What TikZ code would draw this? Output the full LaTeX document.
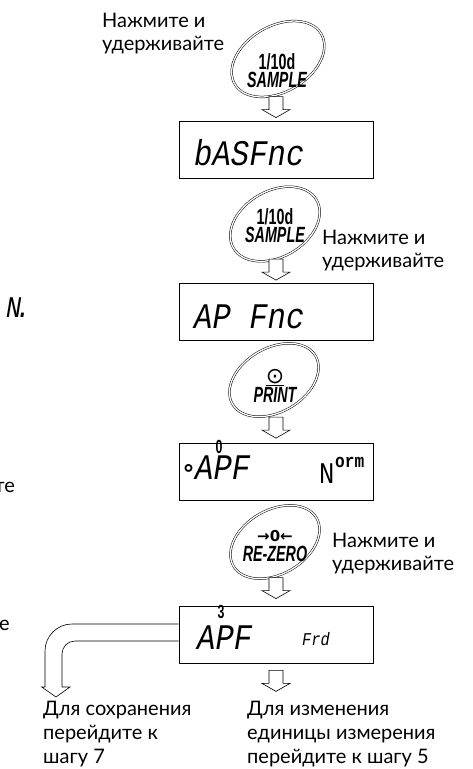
\documentclass[tikz,border=0pt]{standalone}
\usepackage{fontspec}
\setmainfont{Lato}
\newfontfamily\keyfont[FakeStretch=0.65]{Liberation Sans}
\newfontfamily\segfont[FakeStretch=0.85]{Liberation Mono}
\newfontfamily\symfont{DejaVu Sans}
\usepackage{tikz}
\usetikzlibrary{positioning}

\begin{document}
\begin{tikzpicture}[x=1pt,y=1pt,
    hint/.style={align=left, inner sep=0pt, font=\fontsize{20}{22.5}\selectfont},
    keytext/.style={align=center, inner sep=0pt, font=\keyfont\bfseries\fontsize{22}{18}\selectfont},
    keyring/.style={draw, double, double distance=1.3pt, line width=0.5pt},
    display/.style={draw, line width=0.8pt, minimum width=194pt, minimum height=57pt, inner sep=0pt},
    seg/.style={inner sep=0pt, font=\segfont\itshape\fontsize{36}{36}\selectfont},
    smallseg/.style={inner sep=0pt, font=\segfont\itshape\fontsize{18}{18}\selectfont},
    tiny/.style={inner sep=0pt, font=\keyfont\bfseries\fontsize{19}{19}\selectfont},
    openarrow/.pic={\draw[line width=0.6pt, fill=white] (-7,21) -- (-7,8) -- (-14,8) -- (0,0) -- (14,8) -- (7,8) -- (7,21) -- cycle;}
]
\useasboundingbox (0,0) rectangle (473,-769);

% displays
\node[display] (box1) at (276,-149.5) {};
\node[display] (box2) at (276,-312) {};
\node[display] (box3) at (276,-472) {};
\node[display] (box4) at (276,-634.5) {};

\node[seg, anchor=base west] (d1) at (194,-165) {bASFnc};
\node[seg, anchor=base west] (d2) at (194,-328) {AP Fnc};
\node[seg, anchor=base west] (d3) at (195,-479) {APF};
\node[tiny] (d3top) at (219,-447) {0};
\node[inner sep=0pt, font=\symfont\bfseries\fontsize{24}{24}\selectfont] (d3mark) at (188.5,-474) {°};
\node[seg, anchor=base west, font=\segfont\fontsize{30}{30}\selectfont] (d3unit) at (319,-483) {N};
\node[inner sep=0pt, anchor=north west, font=\segfont\bfseries\fontsize{19}{19}\selectfont] (d3rest) at (335,-457) {orm};
\node[seg, anchor=base west] (d4) at (197,-649) {APF};
\node[tiny] (d4top) at (221,-612) {3};
\node[smallseg, anchor=base west] (d4unit) at (302,-645) {Frd};

% keys
\draw[keyring, shift={(278,-59)}, rotate=30] (0,0) ellipse [x radius=50, y radius=33];
\node[keytext] (k1) at (277,-71) {1/10d\\\itshape SAMPLE};
\draw[keyring, shift={(275,-224)}, rotate=30] (0,0) ellipse [x radius=48, y radius=33];
\node[keytext] (k2) at (275,-226) {1/10d\\\itshape SAMPLE};
\draw[keyring, shift={(274,-380)}, rotate=30] (0,0) ellipse [x radius=48, y radius=32];
\node[keytext] (k3) at (275,-386) {{\symfont\mdseries\fontsize{22}{22}\selectfont\underline{⊙}}\\[1pt]\itshape PRINT};
\draw[keyring, shift={(275,-542)}, rotate=30] (0,0) ellipse [x radius=48, y radius=32];
\node[keytext] (k4) at (275,-546) {{\symfont\fontsize{15}{15}\selectfont →0←}\\[2pt]\itshape RE-ZERO};

% arrows between
\pic at ([yshift=3]box1.north) {openarrow};
\pic at ([yshift=3]box2.north) {openarrow};
\pic at ([yshift=5]box3.north) {openarrow};
\pic at ([yshift=7]box4.north) {openarrow};
\pic at ([yshift=-28]box4.south) {openarrow};

% bent arrow to the left
\coordinate (keep) at (56,-697);
\draw[line width=0.6pt] ([yshift=10.5]box4.west) -- (72,-624) arc[start angle=90, end angle=180, radius=27]
    -- (45,-687) -- (41.7,-687) -- (keep) -- (70,-687) -- (62,-687) -- (62,-654)
    arc[start angle=180, end angle=90, radius=13] -- ([yshift=-6.5]box4.west);

% hints
\node[hint, anchor=base west] (h1) at (102,-50) {Нажмите и\\удерживайте};
\node[hint, anchor=base west] (h2) at (322,-267) {Нажмите и\\удерживайте};
\node[hint, anchor=base west] (h3) at (332,-570) {Нажмите и\\удерживайте};
\node[hint, anchor=base west, font=\fontsize{20}{24}\selectfont] (save) at (43,-763) {Для сохранения\\перейдите к\\шагу 7};
\node[hint, anchor=base west, font=\fontsize{20}{24}\selectfont] (unit) at (247,-763) {Для изменения\\единицы измерения\\перейдите к шагу 5};

% cut at the left edge
\node[hint, anchor=base east] (cut1) at (15,-492) {те};
\node[hint, anchor=base east] (cut2) at (10,-630) {е};
\node[seg, anchor=base west, font=\segfont\itshape\fontsize{30}{30}\selectfont] (cut3) at (6,-317) {N\kern-6pt.};
\end{tikzpicture}
\end{document}
